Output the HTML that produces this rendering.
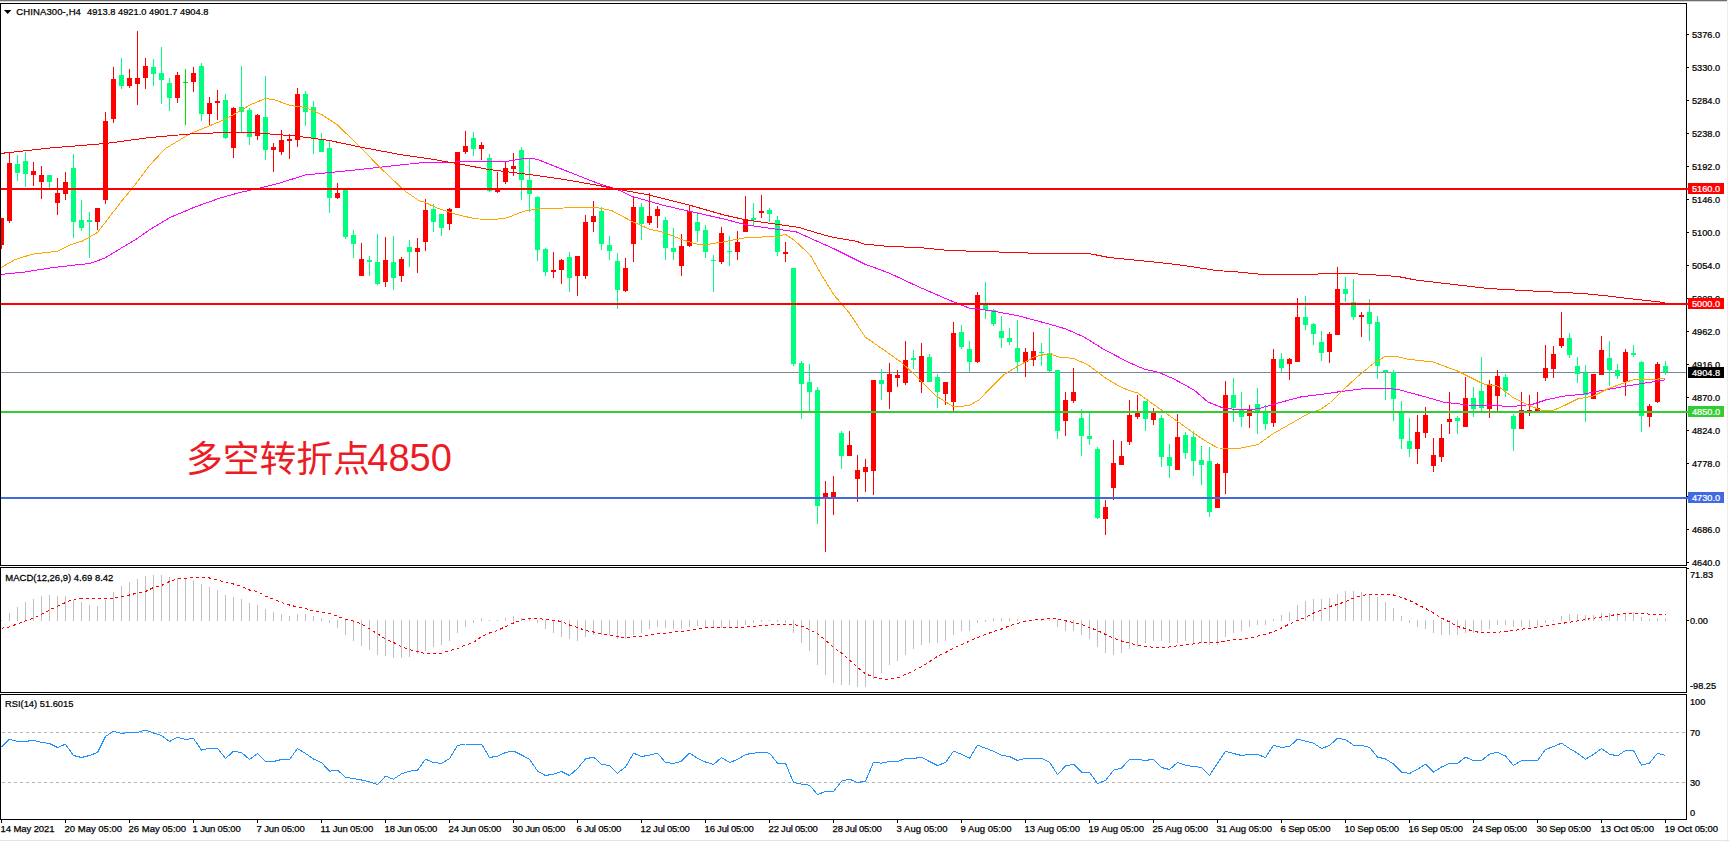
<!DOCTYPE html>
<html lang="zh"><head><meta charset="utf-8"><title>CHINA300-,H4</title>
<style>html,body{margin:0;padding:0;background:#fff;overflow:hidden}svg{display:block}text{font-family:"Liberation Sans","Noto Sans CJK SC",sans-serif;fill:#000}.sm{font-size:9.53px;stroke:#000;stroke-width:.25px}.cn{font-family:"Liberation Sans","Noto Sans CJK SC",sans-serif}</style></head><body>
<svg width="1729" height="842" viewBox="0 0 1729 842">
<rect width="1729" height="842" fill="#fff"/>
<rect x="0" y="0" width="1727" height="1" fill="#6e6e6e"/>
<rect x="0" y="1" width="1727" height="1" fill="#d6d6d6"/>
<rect x="1727" y="0" width="1" height="842" fill="#ececec"/>
<rect x="0" y="840" width="1729" height="1" fill="#e4e4e4"/>
<defs><clipPath id="c1"><rect x="1" y="4" width="1685" height="561"/></clipPath><clipPath id="c2"><rect x="1" y="568" width="1685" height="124"/></clipPath><clipPath id="c3"><rect x="1" y="695" width="1685" height="124"/></clipPath></defs>
<g clip-path="url(#c1)" shape-rendering="crispEdges">
<rect x="1" y="372" width="1685" height="1" fill="#778899"/>
<rect x="1" y="218" width="1" height="31" fill="#ff0000"/>
<rect x="-1" y="218" width="5" height="27" fill="#ff0000"/>
<rect x="9" y="152" width="1" height="71" fill="#ff0000"/>
<rect x="7" y="163" width="5" height="58" fill="#ff0000"/>
<rect x="17" y="155" width="1" height="26" fill="#00ff7f"/>
<rect x="15" y="164" width="5" height="9" fill="#00ff7f"/>
<rect x="25" y="152" width="1" height="35" fill="#00ff7f"/>
<rect x="23" y="161" width="5" height="13" fill="#00ff7f"/>
<rect x="33" y="162" width="1" height="24" fill="#ff0000"/>
<rect x="31" y="171" width="5" height="4" fill="#ff0000"/>
<rect x="41" y="166" width="1" height="33" fill="#ff0000"/>
<rect x="39" y="175" width="5" height="7" fill="#ff0000"/>
<rect x="49" y="175" width="1" height="13" fill="#00ff7f"/>
<rect x="47" y="175" width="5" height="7" fill="#00ff7f"/>
<rect x="57" y="178" width="1" height="37" fill="#ff0000"/>
<rect x="55" y="193" width="5" height="10" fill="#ff0000"/>
<rect x="65" y="172" width="1" height="28" fill="#ff0000"/>
<rect x="63" y="182" width="5" height="12" fill="#ff0000"/>
<rect x="73" y="154" width="1" height="84" fill="#00ff7f"/>
<rect x="71" y="168" width="5" height="54" fill="#00ff7f"/>
<rect x="81" y="200" width="1" height="31" fill="#00ff7f"/>
<rect x="79" y="220" width="5" height="8" fill="#00ff7f"/>
<rect x="89" y="212" width="1" height="46" fill="#00ff7f"/>
<rect x="87" y="220" width="5" height="2" fill="#00ff7f"/>
<rect x="97" y="208" width="1" height="22" fill="#ff0000"/>
<rect x="95" y="208" width="5" height="14" fill="#ff0000"/>
<rect x="105" y="112" width="1" height="92" fill="#ff0000"/>
<rect x="103" y="121" width="5" height="79" fill="#ff0000"/>
<rect x="113" y="67" width="1" height="56" fill="#ff0000"/>
<rect x="111" y="79" width="5" height="40" fill="#ff0000"/>
<rect x="121" y="58" width="1" height="31" fill="#00ff7f"/>
<rect x="119" y="75" width="5" height="11" fill="#00ff7f"/>
<rect x="129" y="69" width="1" height="19" fill="#ff0000"/>
<rect x="127" y="78" width="5" height="8" fill="#ff0000"/>
<rect x="137" y="31" width="1" height="74" fill="#ff0000"/>
<rect x="135" y="78" width="5" height="6" fill="#ff0000"/>
<rect x="145" y="58" width="1" height="31" fill="#ff0000"/>
<rect x="143" y="66" width="5" height="12" fill="#ff0000"/>
<rect x="153" y="59" width="1" height="27" fill="#00ff7f"/>
<rect x="151" y="67" width="5" height="7" fill="#00ff7f"/>
<rect x="161" y="47" width="1" height="57" fill="#00ff7f"/>
<rect x="159" y="73" width="5" height="7" fill="#00ff7f"/>
<rect x="169" y="78" width="1" height="33" fill="#00ff7f"/>
<rect x="167" y="83" width="5" height="15" fill="#00ff7f"/>
<rect x="177" y="72" width="1" height="31" fill="#ff0000"/>
<rect x="175" y="75" width="5" height="23" fill="#ff0000"/>
<rect x="185" y="69" width="1" height="56" fill="#00e000"/>
<rect x="183" y="82" width="5" height="1" fill="#00e000"/>
<rect x="193" y="67" width="1" height="25" fill="#ff0000"/>
<rect x="191" y="73" width="5" height="9" fill="#ff0000"/>
<rect x="201" y="63" width="1" height="58" fill="#00ff7f"/>
<rect x="199" y="66" width="5" height="48" fill="#00ff7f"/>
<rect x="209" y="97" width="1" height="28" fill="#ff0000"/>
<rect x="207" y="103" width="5" height="11" fill="#ff0000"/>
<rect x="217" y="90" width="1" height="30" fill="#ff0000"/>
<rect x="215" y="101" width="5" height="2" fill="#ff0000"/>
<rect x="225" y="94" width="1" height="45" fill="#00ff7f"/>
<rect x="223" y="100" width="5" height="38" fill="#00ff7f"/>
<rect x="233" y="107" width="1" height="51" fill="#ff0000"/>
<rect x="231" y="108" width="5" height="40" fill="#ff0000"/>
<rect x="241" y="66" width="1" height="67" fill="#00ff7f"/>
<rect x="239" y="107" width="5" height="5" fill="#00ff7f"/>
<rect x="249" y="108" width="1" height="37" fill="#00ff7f"/>
<rect x="247" y="110" width="5" height="27" fill="#00ff7f"/>
<rect x="257" y="114" width="1" height="26" fill="#ff0000"/>
<rect x="255" y="115" width="5" height="21" fill="#ff0000"/>
<rect x="265" y="76" width="1" height="84" fill="#00ff7f"/>
<rect x="263" y="117" width="5" height="33" fill="#00ff7f"/>
<rect x="273" y="143" width="1" height="29" fill="#ff0000"/>
<rect x="271" y="147" width="5" height="3" fill="#ff0000"/>
<rect x="281" y="130" width="1" height="25" fill="#ff0000"/>
<rect x="279" y="140" width="5" height="12" fill="#ff0000"/>
<rect x="289" y="134" width="1" height="25" fill="#ff0000"/>
<rect x="287" y="139" width="5" height="2" fill="#ff0000"/>
<rect x="297" y="88" width="1" height="59" fill="#ff0000"/>
<rect x="295" y="94" width="5" height="46" fill="#ff0000"/>
<rect x="305" y="91" width="1" height="35" fill="#00ff7f"/>
<rect x="303" y="94" width="5" height="18" fill="#00ff7f"/>
<rect x="313" y="101" width="1" height="53" fill="#00ff7f"/>
<rect x="311" y="107" width="5" height="32" fill="#00ff7f"/>
<rect x="321" y="133" width="1" height="19" fill="#00ff7f"/>
<rect x="319" y="140" width="5" height="12" fill="#00ff7f"/>
<rect x="329" y="141" width="1" height="72" fill="#00ff7f"/>
<rect x="327" y="148" width="5" height="50" fill="#00ff7f"/>
<rect x="337" y="183" width="1" height="16" fill="#ff0000"/>
<rect x="335" y="193" width="5" height="5" fill="#ff0000"/>
<rect x="345" y="190" width="1" height="49" fill="#00ff7f"/>
<rect x="343" y="190" width="5" height="47" fill="#00ff7f"/>
<rect x="353" y="230" width="1" height="28" fill="#00ff7f"/>
<rect x="351" y="235" width="5" height="9" fill="#00ff7f"/>
<rect x="361" y="243" width="1" height="33" fill="#ff0000"/>
<rect x="359" y="259" width="5" height="17" fill="#ff0000"/>
<rect x="369" y="256" width="1" height="20" fill="#00ff7f"/>
<rect x="367" y="260" width="5" height="2" fill="#00ff7f"/>
<rect x="377" y="234" width="1" height="51" fill="#00ff7f"/>
<rect x="375" y="262" width="5" height="22" fill="#00ff7f"/>
<rect x="385" y="237" width="1" height="50" fill="#ff0000"/>
<rect x="383" y="260" width="5" height="22" fill="#ff0000"/>
<rect x="393" y="236" width="1" height="54" fill="#00ff7f"/>
<rect x="391" y="262" width="5" height="16" fill="#00ff7f"/>
<rect x="401" y="257" width="1" height="25" fill="#ff0000"/>
<rect x="399" y="259" width="5" height="17" fill="#ff0000"/>
<rect x="409" y="240" width="1" height="27" fill="#00ff7f"/>
<rect x="407" y="247" width="5" height="5" fill="#00ff7f"/>
<rect x="417" y="238" width="1" height="35" fill="#ff0000"/>
<rect x="415" y="248" width="5" height="4" fill="#ff0000"/>
<rect x="425" y="199" width="1" height="52" fill="#ff0000"/>
<rect x="423" y="210" width="5" height="32" fill="#ff0000"/>
<rect x="433" y="204" width="1" height="28" fill="#00ff7f"/>
<rect x="431" y="209" width="5" height="13" fill="#00ff7f"/>
<rect x="441" y="214" width="1" height="22" fill="#00ff7f"/>
<rect x="439" y="214" width="5" height="14" fill="#00ff7f"/>
<rect x="449" y="208" width="1" height="22" fill="#ff0000"/>
<rect x="447" y="209" width="5" height="15" fill="#ff0000"/>
<rect x="457" y="152" width="1" height="56" fill="#ff0000"/>
<rect x="455" y="152" width="5" height="56" fill="#ff0000"/>
<rect x="465" y="131" width="1" height="23" fill="#ff0000"/>
<rect x="463" y="146" width="5" height="6" fill="#ff0000"/>
<rect x="473" y="132" width="1" height="24" fill="#00ff7f"/>
<rect x="471" y="138" width="5" height="11" fill="#00ff7f"/>
<rect x="481" y="142" width="1" height="18" fill="#ff0000"/>
<rect x="479" y="145" width="5" height="4" fill="#ff0000"/>
<rect x="489" y="154" width="1" height="38" fill="#00ff7f"/>
<rect x="487" y="158" width="5" height="33" fill="#00ff7f"/>
<rect x="497" y="172" width="1" height="21" fill="#ff0000"/>
<rect x="495" y="188" width="5" height="4" fill="#ff0000"/>
<rect x="505" y="162" width="1" height="22" fill="#ff0000"/>
<rect x="503" y="168" width="5" height="14" fill="#ff0000"/>
<rect x="513" y="153" width="1" height="23" fill="#ff0000"/>
<rect x="511" y="166" width="5" height="3" fill="#ff0000"/>
<rect x="521" y="147" width="1" height="53" fill="#00ff7f"/>
<rect x="519" y="150" width="5" height="30" fill="#00ff7f"/>
<rect x="529" y="159" width="1" height="53" fill="#00ff7f"/>
<rect x="527" y="180" width="5" height="14" fill="#00ff7f"/>
<rect x="537" y="196" width="1" height="65" fill="#00ff7f"/>
<rect x="535" y="197" width="5" height="53" fill="#00ff7f"/>
<rect x="545" y="248" width="1" height="28" fill="#00ff7f"/>
<rect x="543" y="249" width="5" height="23" fill="#00ff7f"/>
<rect x="553" y="252" width="1" height="26" fill="#ff0000"/>
<rect x="551" y="270" width="5" height="2" fill="#ff0000"/>
<rect x="561" y="259" width="1" height="25" fill="#ff0000"/>
<rect x="559" y="260" width="5" height="10" fill="#ff0000"/>
<rect x="569" y="252" width="1" height="40" fill="#00ff7f"/>
<rect x="567" y="257" width="5" height="21" fill="#00ff7f"/>
<rect x="577" y="256" width="1" height="40" fill="#ff0000"/>
<rect x="575" y="256" width="5" height="20" fill="#ff0000"/>
<rect x="585" y="215" width="1" height="64" fill="#ff0000"/>
<rect x="583" y="222" width="5" height="54" fill="#ff0000"/>
<rect x="593" y="201" width="1" height="31" fill="#ff0000"/>
<rect x="591" y="216" width="5" height="6" fill="#ff0000"/>
<rect x="601" y="207" width="1" height="43" fill="#00ff7f"/>
<rect x="599" y="211" width="5" height="33" fill="#00ff7f"/>
<rect x="609" y="236" width="1" height="24" fill="#00ff7f"/>
<rect x="607" y="245" width="5" height="6" fill="#00ff7f"/>
<rect x="617" y="253" width="1" height="56" fill="#00ff7f"/>
<rect x="615" y="261" width="5" height="29" fill="#00ff7f"/>
<rect x="625" y="258" width="1" height="34" fill="#ff0000"/>
<rect x="623" y="268" width="5" height="23" fill="#ff0000"/>
<rect x="633" y="196" width="1" height="66" fill="#ff0000"/>
<rect x="631" y="207" width="5" height="37" fill="#ff0000"/>
<rect x="641" y="203" width="1" height="37" fill="#00ff7f"/>
<rect x="639" y="207" width="5" height="17" fill="#00ff7f"/>
<rect x="649" y="193" width="1" height="32" fill="#ff0000"/>
<rect x="647" y="216" width="5" height="7" fill="#ff0000"/>
<rect x="657" y="206" width="1" height="22" fill="#ff0000"/>
<rect x="655" y="209" width="5" height="7" fill="#ff0000"/>
<rect x="665" y="217" width="1" height="43" fill="#00ff7f"/>
<rect x="663" y="220" width="5" height="28" fill="#00ff7f"/>
<rect x="673" y="228" width="1" height="32" fill="#00ff7f"/>
<rect x="671" y="248" width="5" height="4" fill="#00ff7f"/>
<rect x="681" y="234" width="1" height="42" fill="#ff0000"/>
<rect x="679" y="246" width="5" height="20" fill="#ff0000"/>
<rect x="689" y="206" width="1" height="41" fill="#ff0000"/>
<rect x="687" y="211" width="5" height="35" fill="#ff0000"/>
<rect x="697" y="212" width="1" height="30" fill="#00ff7f"/>
<rect x="695" y="222" width="5" height="9" fill="#00ff7f"/>
<rect x="705" y="225" width="1" height="33" fill="#00ff7f"/>
<rect x="703" y="230" width="5" height="22" fill="#00ff7f"/>
<rect x="713" y="255" width="1" height="37" fill="#00ff7f"/>
<rect x="711" y="260" width="5" height="1" fill="#00ff7f"/>
<rect x="721" y="227" width="1" height="37" fill="#ff0000"/>
<rect x="719" y="233" width="5" height="29" fill="#ff0000"/>
<rect x="729" y="236" width="1" height="30" fill="#00ff7f"/>
<rect x="727" y="251" width="5" height="1" fill="#00ff7f"/>
<rect x="737" y="231" width="1" height="29" fill="#ff0000"/>
<rect x="735" y="242" width="5" height="10" fill="#ff0000"/>
<rect x="745" y="196" width="1" height="36" fill="#ff0000"/>
<rect x="743" y="219" width="5" height="13" fill="#ff0000"/>
<rect x="753" y="203" width="1" height="23" fill="#00ff7f"/>
<rect x="751" y="218" width="5" height="2" fill="#00ff7f"/>
<rect x="761" y="195" width="1" height="23" fill="#ff0000"/>
<rect x="759" y="211" width="5" height="2" fill="#ff0000"/>
<rect x="769" y="208" width="1" height="14" fill="#00ff7f"/>
<rect x="767" y="210" width="5" height="4" fill="#00ff7f"/>
<rect x="777" y="216" width="1" height="40" fill="#00ff7f"/>
<rect x="775" y="220" width="5" height="32" fill="#00ff7f"/>
<rect x="785" y="242" width="1" height="20" fill="#ff0000"/>
<rect x="783" y="252" width="5" height="2" fill="#ff0000"/>
<rect x="793" y="268" width="1" height="98" fill="#00ff7f"/>
<rect x="791" y="268" width="5" height="96" fill="#00ff7f"/>
<rect x="801" y="361" width="1" height="58" fill="#00ff7f"/>
<rect x="799" y="363" width="5" height="21" fill="#00ff7f"/>
<rect x="809" y="364" width="1" height="47" fill="#00ff7f"/>
<rect x="807" y="382" width="5" height="10" fill="#00ff7f"/>
<rect x="817" y="387" width="1" height="137" fill="#00ff7f"/>
<rect x="815" y="390" width="5" height="116" fill="#00ff7f"/>
<rect x="825" y="481" width="1" height="71" fill="#ff0000"/>
<rect x="823" y="493" width="5" height="5" fill="#ff0000"/>
<rect x="833" y="476" width="1" height="39" fill="#ff0000"/>
<rect x="831" y="492" width="5" height="6" fill="#ff0000"/>
<rect x="841" y="431" width="1" height="38" fill="#00ff7f"/>
<rect x="839" y="433" width="5" height="23" fill="#00ff7f"/>
<rect x="849" y="431" width="1" height="25" fill="#ff0000"/>
<rect x="847" y="445" width="5" height="11" fill="#ff0000"/>
<rect x="857" y="455" width="1" height="47" fill="#ff0000"/>
<rect x="855" y="470" width="5" height="9" fill="#ff0000"/>
<rect x="865" y="459" width="1" height="33" fill="#ff0000"/>
<rect x="863" y="467" width="5" height="5" fill="#ff0000"/>
<rect x="873" y="380" width="1" height="115" fill="#ff0000"/>
<rect x="871" y="380" width="5" height="91" fill="#ff0000"/>
<rect x="881" y="369" width="1" height="31" fill="#00ff7f"/>
<rect x="879" y="380" width="5" height="4" fill="#00ff7f"/>
<rect x="889" y="363" width="1" height="46" fill="#ff0000"/>
<rect x="887" y="374" width="5" height="18" fill="#ff0000"/>
<rect x="897" y="370" width="1" height="17" fill="#ff0000"/>
<rect x="895" y="375" width="5" height="3" fill="#ff0000"/>
<rect x="905" y="341" width="1" height="44" fill="#ff0000"/>
<rect x="903" y="360" width="5" height="23" fill="#ff0000"/>
<rect x="913" y="350" width="1" height="19" fill="#00ff7f"/>
<rect x="911" y="358" width="5" height="2" fill="#00ff7f"/>
<rect x="921" y="343" width="1" height="50" fill="#ff0000"/>
<rect x="919" y="356" width="5" height="26" fill="#ff0000"/>
<rect x="929" y="354" width="1" height="28" fill="#00ff7f"/>
<rect x="927" y="357" width="5" height="25" fill="#00ff7f"/>
<rect x="937" y="374" width="1" height="34" fill="#00ff7f"/>
<rect x="935" y="377" width="5" height="15" fill="#00ff7f"/>
<rect x="945" y="382" width="1" height="23" fill="#ff0000"/>
<rect x="943" y="382" width="5" height="12" fill="#ff0000"/>
<rect x="953" y="322" width="1" height="89" fill="#ff0000"/>
<rect x="951" y="333" width="5" height="69" fill="#ff0000"/>
<rect x="961" y="325" width="1" height="24" fill="#00ff7f"/>
<rect x="959" y="332" width="5" height="15" fill="#00ff7f"/>
<rect x="969" y="341" width="1" height="31" fill="#00ff7f"/>
<rect x="967" y="349" width="5" height="13" fill="#00ff7f"/>
<rect x="977" y="292" width="1" height="71" fill="#ff0000"/>
<rect x="975" y="295" width="5" height="67" fill="#ff0000"/>
<rect x="985" y="282" width="1" height="37" fill="#00ff7f"/>
<rect x="983" y="305" width="5" height="5" fill="#00ff7f"/>
<rect x="993" y="309" width="1" height="17" fill="#00ff7f"/>
<rect x="991" y="310" width="5" height="14" fill="#00ff7f"/>
<rect x="1001" y="316" width="1" height="32" fill="#00ff7f"/>
<rect x="999" y="331" width="5" height="7" fill="#00ff7f"/>
<rect x="1009" y="328" width="1" height="17" fill="#00ff7f"/>
<rect x="1007" y="338" width="5" height="4" fill="#00ff7f"/>
<rect x="1017" y="320" width="1" height="52" fill="#00ff7f"/>
<rect x="1015" y="348" width="5" height="14" fill="#00ff7f"/>
<rect x="1025" y="348" width="1" height="29" fill="#ff0000"/>
<rect x="1023" y="352" width="5" height="10" fill="#ff0000"/>
<rect x="1033" y="332" width="1" height="34" fill="#ff0000"/>
<rect x="1031" y="351" width="5" height="9" fill="#ff0000"/>
<rect x="1041" y="343" width="1" height="23" fill="#00ff7f"/>
<rect x="1039" y="352" width="5" height="1" fill="#00ff7f"/>
<rect x="1049" y="328" width="1" height="44" fill="#00ff7f"/>
<rect x="1047" y="353" width="5" height="18" fill="#00ff7f"/>
<rect x="1057" y="370" width="1" height="69" fill="#00ff7f"/>
<rect x="1055" y="370" width="5" height="61" fill="#00ff7f"/>
<rect x="1065" y="392" width="1" height="44" fill="#ff0000"/>
<rect x="1063" y="400" width="5" height="21" fill="#ff0000"/>
<rect x="1073" y="368" width="1" height="35" fill="#ff0000"/>
<rect x="1071" y="392" width="5" height="9" fill="#ff0000"/>
<rect x="1081" y="409" width="1" height="47" fill="#00ff7f"/>
<rect x="1079" y="418" width="5" height="18" fill="#00ff7f"/>
<rect x="1089" y="412" width="1" height="33" fill="#00ff7f"/>
<rect x="1087" y="436" width="5" height="3" fill="#00ff7f"/>
<rect x="1097" y="447" width="1" height="72" fill="#00ff7f"/>
<rect x="1095" y="449" width="5" height="69" fill="#00ff7f"/>
<rect x="1105" y="500" width="1" height="35" fill="#ff0000"/>
<rect x="1103" y="507" width="5" height="12" fill="#ff0000"/>
<rect x="1113" y="440" width="1" height="60" fill="#ff0000"/>
<rect x="1111" y="463" width="5" height="25" fill="#ff0000"/>
<rect x="1121" y="441" width="1" height="24" fill="#ff0000"/>
<rect x="1119" y="456" width="5" height="9" fill="#ff0000"/>
<rect x="1129" y="400" width="1" height="45" fill="#ff0000"/>
<rect x="1127" y="415" width="5" height="27" fill="#ff0000"/>
<rect x="1137" y="395" width="1" height="24" fill="#ff0000"/>
<rect x="1135" y="413" width="5" height="4" fill="#ff0000"/>
<rect x="1145" y="401" width="1" height="30" fill="#00ff7f"/>
<rect x="1143" y="401" width="5" height="18" fill="#00ff7f"/>
<rect x="1153" y="408" width="1" height="17" fill="#ff0000"/>
<rect x="1151" y="413" width="5" height="7" fill="#ff0000"/>
<rect x="1161" y="415" width="1" height="52" fill="#00ff7f"/>
<rect x="1159" y="418" width="5" height="39" fill="#00ff7f"/>
<rect x="1169" y="444" width="1" height="34" fill="#00ff7f"/>
<rect x="1167" y="457" width="5" height="9" fill="#00ff7f"/>
<rect x="1177" y="414" width="1" height="56" fill="#ff0000"/>
<rect x="1175" y="437" width="5" height="33" fill="#ff0000"/>
<rect x="1185" y="432" width="1" height="27" fill="#00ff7f"/>
<rect x="1183" y="435" width="5" height="18" fill="#00ff7f"/>
<rect x="1193" y="431" width="1" height="45" fill="#00ff7f"/>
<rect x="1191" y="437" width="5" height="24" fill="#00ff7f"/>
<rect x="1201" y="446" width="1" height="39" fill="#00ff7f"/>
<rect x="1199" y="460" width="5" height="5" fill="#00ff7f"/>
<rect x="1209" y="447" width="1" height="70" fill="#00ff7f"/>
<rect x="1207" y="461" width="5" height="51" fill="#00ff7f"/>
<rect x="1217" y="463" width="1" height="45" fill="#ff0000"/>
<rect x="1215" y="464" width="5" height="44" fill="#ff0000"/>
<rect x="1225" y="381" width="1" height="113" fill="#ff0000"/>
<rect x="1223" y="395" width="5" height="78" fill="#ff0000"/>
<rect x="1233" y="378" width="1" height="44" fill="#00ff7f"/>
<rect x="1231" y="395" width="5" height="13" fill="#00ff7f"/>
<rect x="1241" y="392" width="1" height="35" fill="#00ff7f"/>
<rect x="1239" y="410" width="5" height="7" fill="#00ff7f"/>
<rect x="1249" y="405" width="1" height="23" fill="#ff0000"/>
<rect x="1247" y="410" width="5" height="6" fill="#ff0000"/>
<rect x="1257" y="388" width="1" height="46" fill="#00ff7f"/>
<rect x="1255" y="404" width="5" height="8" fill="#00ff7f"/>
<rect x="1265" y="405" width="1" height="25" fill="#00ff7f"/>
<rect x="1263" y="412" width="5" height="12" fill="#00ff7f"/>
<rect x="1273" y="349" width="1" height="78" fill="#ff0000"/>
<rect x="1271" y="359" width="5" height="64" fill="#ff0000"/>
<rect x="1281" y="353" width="1" height="19" fill="#00ff7f"/>
<rect x="1279" y="359" width="5" height="9" fill="#00ff7f"/>
<rect x="1289" y="358" width="1" height="22" fill="#ff0000"/>
<rect x="1287" y="359" width="5" height="5" fill="#ff0000"/>
<rect x="1297" y="298" width="1" height="64" fill="#ff0000"/>
<rect x="1295" y="317" width="5" height="45" fill="#ff0000"/>
<rect x="1305" y="296" width="1" height="34" fill="#00ff7f"/>
<rect x="1303" y="317" width="5" height="8" fill="#00ff7f"/>
<rect x="1313" y="323" width="1" height="22" fill="#00ff7f"/>
<rect x="1311" y="324" width="5" height="10" fill="#00ff7f"/>
<rect x="1321" y="331" width="1" height="30" fill="#00ff7f"/>
<rect x="1319" y="342" width="5" height="11" fill="#00ff7f"/>
<rect x="1329" y="332" width="1" height="31" fill="#ff0000"/>
<rect x="1327" y="334" width="5" height="18" fill="#ff0000"/>
<rect x="1337" y="267" width="1" height="68" fill="#ff0000"/>
<rect x="1335" y="289" width="5" height="46" fill="#ff0000"/>
<rect x="1345" y="277" width="1" height="25" fill="#00ff7f"/>
<rect x="1343" y="289" width="5" height="5" fill="#00ff7f"/>
<rect x="1353" y="279" width="1" height="41" fill="#00ff7f"/>
<rect x="1351" y="302" width="5" height="15" fill="#00ff7f"/>
<rect x="1361" y="312" width="1" height="25" fill="#ff0000"/>
<rect x="1359" y="315" width="5" height="2" fill="#ff0000"/>
<rect x="1369" y="299" width="1" height="42" fill="#00ff7f"/>
<rect x="1367" y="312" width="5" height="12" fill="#00ff7f"/>
<rect x="1377" y="316" width="1" height="63" fill="#00ff7f"/>
<rect x="1375" y="322" width="5" height="44" fill="#00ff7f"/>
<rect x="1385" y="370" width="1" height="30" fill="#00ff7f"/>
<rect x="1383" y="370" width="5" height="2" fill="#00ff7f"/>
<rect x="1393" y="370" width="1" height="51" fill="#00ff7f"/>
<rect x="1391" y="372" width="5" height="27" fill="#00ff7f"/>
<rect x="1401" y="401" width="1" height="48" fill="#00ff7f"/>
<rect x="1399" y="412" width="5" height="27" fill="#00ff7f"/>
<rect x="1409" y="418" width="1" height="39" fill="#00ff7f"/>
<rect x="1407" y="441" width="5" height="8" fill="#00ff7f"/>
<rect x="1417" y="415" width="1" height="49" fill="#ff0000"/>
<rect x="1415" y="432" width="5" height="17" fill="#ff0000"/>
<rect x="1425" y="407" width="1" height="31" fill="#ff0000"/>
<rect x="1423" y="415" width="5" height="18" fill="#ff0000"/>
<rect x="1433" y="438" width="1" height="34" fill="#ff0000"/>
<rect x="1431" y="455" width="5" height="11" fill="#ff0000"/>
<rect x="1441" y="424" width="1" height="38" fill="#ff0000"/>
<rect x="1439" y="438" width="5" height="19" fill="#ff0000"/>
<rect x="1449" y="392" width="1" height="42" fill="#ff0000"/>
<rect x="1447" y="419" width="5" height="3" fill="#ff0000"/>
<rect x="1457" y="416" width="1" height="18" fill="#00ff7f"/>
<rect x="1455" y="418" width="5" height="3" fill="#00ff7f"/>
<rect x="1465" y="377" width="1" height="50" fill="#ff0000"/>
<rect x="1463" y="398" width="5" height="29" fill="#ff0000"/>
<rect x="1473" y="387" width="1" height="30" fill="#00ff7f"/>
<rect x="1471" y="398" width="5" height="11" fill="#00ff7f"/>
<rect x="1481" y="357" width="1" height="54" fill="#00ff7f"/>
<rect x="1479" y="391" width="5" height="17" fill="#00ff7f"/>
<rect x="1489" y="380" width="1" height="38" fill="#ff0000"/>
<rect x="1487" y="384" width="5" height="25" fill="#ff0000"/>
<rect x="1497" y="370" width="1" height="41" fill="#ff0000"/>
<rect x="1495" y="376" width="5" height="20" fill="#ff0000"/>
<rect x="1505" y="374" width="1" height="23" fill="#00ff7f"/>
<rect x="1503" y="377" width="5" height="14" fill="#00ff7f"/>
<rect x="1513" y="414" width="1" height="37" fill="#00ff7f"/>
<rect x="1511" y="416" width="5" height="13" fill="#00ff7f"/>
<rect x="1521" y="392" width="1" height="37" fill="#ff0000"/>
<rect x="1519" y="410" width="5" height="19" fill="#ff0000"/>
<rect x="1529" y="395" width="1" height="21" fill="#ff0000"/>
<rect x="1527" y="410" width="5" height="1" fill="#ff0000"/>
<rect x="1537" y="392" width="1" height="19" fill="#ff0000"/>
<rect x="1535" y="408" width="5" height="3" fill="#ff0000"/>
<rect x="1545" y="345" width="1" height="36" fill="#ff0000"/>
<rect x="1543" y="368" width="5" height="10" fill="#ff0000"/>
<rect x="1553" y="346" width="1" height="32" fill="#ff0000"/>
<rect x="1551" y="354" width="5" height="15" fill="#ff0000"/>
<rect x="1561" y="312" width="1" height="36" fill="#ff0000"/>
<rect x="1559" y="338" width="5" height="8" fill="#ff0000"/>
<rect x="1569" y="333" width="1" height="25" fill="#00ff7f"/>
<rect x="1567" y="338" width="5" height="17" fill="#00ff7f"/>
<rect x="1577" y="357" width="1" height="26" fill="#00ff7f"/>
<rect x="1575" y="366" width="5" height="8" fill="#00ff7f"/>
<rect x="1585" y="365" width="1" height="57" fill="#00ff7f"/>
<rect x="1583" y="373" width="5" height="22" fill="#00ff7f"/>
<rect x="1593" y="374" width="1" height="25" fill="#ff0000"/>
<rect x="1591" y="374" width="5" height="25" fill="#ff0000"/>
<rect x="1601" y="336" width="1" height="39" fill="#ff0000"/>
<rect x="1599" y="350" width="5" height="25" fill="#ff0000"/>
<rect x="1609" y="341" width="1" height="45" fill="#00ff7f"/>
<rect x="1607" y="358" width="5" height="12" fill="#00ff7f"/>
<rect x="1617" y="364" width="1" height="15" fill="#00ff7f"/>
<rect x="1615" y="370" width="5" height="6" fill="#00ff7f"/>
<rect x="1625" y="349" width="1" height="47" fill="#ff0000"/>
<rect x="1623" y="352" width="5" height="30" fill="#ff0000"/>
<rect x="1633" y="345" width="1" height="12" fill="#00ff7f"/>
<rect x="1631" y="353" width="5" height="2" fill="#00ff7f"/>
<rect x="1641" y="361" width="1" height="71" fill="#00ff7f"/>
<rect x="1639" y="362" width="5" height="54" fill="#00ff7f"/>
<rect x="1649" y="404" width="1" height="23" fill="#ff0000"/>
<rect x="1647" y="406" width="5" height="11" fill="#ff0000"/>
<rect x="1657" y="362" width="1" height="41" fill="#ff0000"/>
<rect x="1655" y="364" width="5" height="38" fill="#ff0000"/>
<rect x="1665" y="361" width="1" height="14" fill="#00ff7f"/>
<rect x="1663" y="366" width="5" height="6" fill="#00ff7f"/>
<polyline points="0.0,274.5 25.0,272.0 50.0,268.0 75.0,265.0 90.0,263.5 105.0,258.0 120.0,248.8 135.0,240.0 150.0,229.5 170.0,217.5 195.0,207.0 220.0,198.0 240.0,192.5 260.0,188.0 280.0,183.0 305.0,175.0 330.0,172.5 360.0,169.5 400.0,165.0 424.0,162.5 456.5,162.0 506.5,161.5 521.5,159.0 531.5,158.0 539.0,160.0 564.0,170.0 599.0,183.8 616.5,189.0 631.5,196.2 664.0,205.5 689.0,211.2 724.0,219.0 746.5,225.0 779.0,229.5 796.5,232.0 834.0,248.8 864.0,263.8 889.0,273.0 919.0,287.0 949.0,300.0 969.0,308.0 994.0,311.2 1019.0,316.0 1049.0,324.0 1066.5,329.2 1084.0,337.0 1104.0,349.5 1129.0,362.5 1144.0,369.0 1159.0,372.5 1174.0,379.0 1194.0,390.0 1208.0,402.0 1223.0,408.0 1240.5,410.0 1258.0,408.8 1278.0,403.0 1300.5,397.0 1320.5,394.5 1343.0,391.2 1368.0,388.2 1385.5,388.2 1398.0,389.5 1423.0,396.2 1443.0,402.0 1468.0,405.0 1490.5,405.5 1513.0,406.5 1533.0,404.2 1545.5,400.0 1563.0,396.2 1583.0,394.2 1598.0,391.2 1624.7,386.4 1641.8,383.6 1665.4,379.8" fill="none" stroke="#ff00ff" stroke-width="1" stroke-linejoin="bevel" />
<polyline points="0.0,268.2 15.0,259.5 32.5,254.2 57.5,251.2 70.0,245.0 82.5,241.0 97.5,232.5 110.0,216.2 122.5,200.0 132.5,188.0 150.0,165.0 165.0,148.8 190.0,133.8 225.0,119.5 250.0,105.0 265.5,98.5 275.0,100.0 290.0,105.5 305.5,107.5 322.5,115.0 337.5,125.0 360.0,147.0 380.0,167.5 405.0,191.2 420.0,201.2 424.0,202.0 439.0,208.8 456.5,214.5 474.0,218.5 490.2,220.0 506.5,218.0 524.0,211.2 539.0,208.5 564.0,208.0 594.0,207.0 611.5,210.5 631.5,221.2 649.0,229.0 664.0,232.5 681.5,239.5 696.5,244.0 706.5,244.5 724.0,241.8 746.5,237.5 779.0,236.5 785.2,234.2 794.0,240.0 810.2,255.0 821.5,275.0 834.0,295.0 849.0,312.5 865.2,337.0 884.0,350.0 901.5,362.5 919.0,378.8 936.5,396.2 954.0,407.0 969.0,405.5 979.0,400.0 991.5,387.0 1004.0,374.5 1019.0,365.5 1034.0,357.0 1049.0,353.5 1059.0,357.0 1074.0,358.5 1089.0,365.5 1104.0,377.0 1119.0,386.2 1129.0,390.5 1137.8,393.0 1149.0,401.2 1161.5,410.0 1179.0,422.5 1196.5,435.0 1208.0,442.5 1218.0,448.0 1240.5,448.2 1258.0,444.5 1273.0,433.8 1290.5,423.8 1308.0,413.8 1320.5,409.5 1330.5,402.5 1343.0,390.0 1358.0,376.2 1373.0,363.8 1385.5,356.2 1395.5,356.2 1408.0,359.2 1433.0,362.0 1458.0,371.2 1483.0,383.8 1498.0,386.2 1513.0,397.5 1528.0,405.0 1540.5,410.0 1553.0,410.5 1563.0,406.2 1578.0,398.8 1593.0,396.2 1608.0,388.8 1624.7,382.6 1633.3,379.8 1649.4,379.8 1665.4,378.4" fill="none" stroke="#ffa500" stroke-width="1" stroke-linejoin="bevel" />
<polyline points="0.0,153.5 50.0,148.0 105.5,143.5 150.0,137.5 190.0,134.0 225.0,132.5 257.5,133.0 297.5,136.2 329.5,140.5 360.0,147.0 400.0,154.5 432.2,159.2 456.5,163.5 489.0,169.5 529.0,174.5 564.0,179.5 599.0,185.5 616.5,189.0 649.0,195.0 689.0,205.0 724.0,215.0 746.5,220.0 779.0,224.5 799.0,227.5 809.0,230.5 824.0,235.0 834.0,237.5 856.2,241.2 864.0,244.0 889.0,246.5 919.0,247.5 949.0,250.5 999.0,252.0 1034.0,253.2 1091.5,254.0 1109.0,257.5 1134.0,260.0 1159.0,262.5 1184.0,265.5 1216.2,270.5 1238.0,272.0 1263.0,274.5 1308.0,274.5 1338.0,273.0 1368.0,274.5 1398.0,276.5 1415.5,280.0 1458.0,285.0 1488.0,288.5 1533.0,291.0 1583.0,293.5 1608.0,296.0 1626.6,298.3 1664.8,302.5" fill="none" stroke="#ff0000" stroke-width="1" stroke-linejoin="bevel" />
<rect x="1" y="188" width="1685" height="2" fill="#ff0000"/>
<rect x="1" y="303" width="1685" height="2" fill="#ff0000"/>
<rect x="1" y="411" width="1685" height="2" fill="#32cd32"/>
<rect x="1" y="497" width="1685" height="2" fill="#4169e1"/>
</g>
<text class="cn" x="185.9" y="471.5" style="font-size:36.8px;font-weight:400;fill:#ec1c24">多空转折点</text>
<text x="367.3" y="470.6" style="font-size:38px;fill:#ec1c24">4850</text>
<g clip-path="url(#c2)" shape-rendering="crispEdges">
<rect x="1" y="620" width="1" height="1" fill="#c0c0c0"/>
<rect x="9" y="613" width="1" height="8" fill="#c0c0c0"/>
<rect x="17" y="607" width="1" height="14" fill="#c0c0c0"/>
<rect x="25" y="602" width="1" height="19" fill="#c0c0c0"/>
<rect x="33" y="599" width="1" height="22" fill="#c0c0c0"/>
<rect x="41" y="596" width="1" height="25" fill="#c0c0c0"/>
<rect x="49" y="595" width="1" height="26" fill="#c0c0c0"/>
<rect x="57" y="596" width="1" height="25" fill="#c0c0c0"/>
<rect x="65" y="596" width="1" height="25" fill="#c0c0c0"/>
<rect x="73" y="600" width="1" height="21" fill="#c0c0c0"/>
<rect x="81" y="602" width="1" height="19" fill="#c0c0c0"/>
<rect x="89" y="605" width="1" height="16" fill="#c0c0c0"/>
<rect x="97" y="606" width="1" height="15" fill="#c0c0c0"/>
<rect x="105" y="600" width="1" height="21" fill="#c0c0c0"/>
<rect x="113" y="592" width="1" height="29" fill="#c0c0c0"/>
<rect x="121" y="586" width="1" height="35" fill="#c0c0c0"/>
<rect x="129" y="582" width="1" height="39" fill="#c0c0c0"/>
<rect x="137" y="579" width="1" height="42" fill="#c0c0c0"/>
<rect x="145" y="576" width="1" height="45" fill="#c0c0c0"/>
<rect x="153" y="575" width="1" height="46" fill="#c0c0c0"/>
<rect x="161" y="575" width="1" height="46" fill="#c0c0c0"/>
<rect x="169" y="577" width="1" height="44" fill="#c0c0c0"/>
<rect x="177" y="578" width="1" height="43" fill="#c0c0c0"/>
<rect x="185" y="579" width="1" height="42" fill="#c0c0c0"/>
<rect x="193" y="580" width="1" height="41" fill="#c0c0c0"/>
<rect x="201" y="584" width="1" height="37" fill="#c0c0c0"/>
<rect x="209" y="587" width="1" height="34" fill="#c0c0c0"/>
<rect x="217" y="590" width="1" height="31" fill="#c0c0c0"/>
<rect x="225" y="595" width="1" height="26" fill="#c0c0c0"/>
<rect x="233" y="597" width="1" height="24" fill="#c0c0c0"/>
<rect x="241" y="599" width="1" height="22" fill="#c0c0c0"/>
<rect x="249" y="603" width="1" height="18" fill="#c0c0c0"/>
<rect x="257" y="605" width="1" height="16" fill="#c0c0c0"/>
<rect x="265" y="609" width="1" height="12" fill="#c0c0c0"/>
<rect x="273" y="612" width="1" height="9" fill="#c0c0c0"/>
<rect x="281" y="614" width="1" height="7" fill="#c0c0c0"/>
<rect x="289" y="616" width="1" height="5" fill="#c0c0c0"/>
<rect x="297" y="614" width="1" height="7" fill="#c0c0c0"/>
<rect x="305" y="614" width="1" height="7" fill="#c0c0c0"/>
<rect x="313" y="616" width="1" height="5" fill="#c0c0c0"/>
<rect x="321" y="618" width="1" height="3" fill="#c0c0c0"/>
<rect x="329" y="620" width="1" height="3" fill="#c0c0c0"/>
<rect x="337" y="620" width="1" height="8" fill="#c0c0c0"/>
<rect x="345" y="620" width="1" height="15" fill="#c0c0c0"/>
<rect x="353" y="620" width="1" height="21" fill="#c0c0c0"/>
<rect x="361" y="620" width="1" height="26" fill="#c0c0c0"/>
<rect x="369" y="620" width="1" height="30" fill="#c0c0c0"/>
<rect x="377" y="620" width="1" height="35" fill="#c0c0c0"/>
<rect x="385" y="620" width="1" height="36" fill="#c0c0c0"/>
<rect x="393" y="620" width="1" height="38" fill="#c0c0c0"/>
<rect x="401" y="620" width="1" height="38" fill="#c0c0c0"/>
<rect x="409" y="620" width="1" height="37" fill="#c0c0c0"/>
<rect x="417" y="620" width="1" height="34" fill="#c0c0c0"/>
<rect x="425" y="620" width="1" height="31" fill="#c0c0c0"/>
<rect x="433" y="620" width="1" height="27" fill="#c0c0c0"/>
<rect x="441" y="620" width="1" height="25" fill="#c0c0c0"/>
<rect x="449" y="620" width="1" height="21" fill="#c0c0c0"/>
<rect x="457" y="620" width="1" height="13" fill="#c0c0c0"/>
<rect x="465" y="620" width="1" height="7" fill="#c0c0c0"/>
<rect x="473" y="620" width="1" height="3" fill="#c0c0c0"/>
<rect x="481" y="618" width="1" height="3" fill="#c0c0c0"/>
<rect x="489" y="620" width="1" height="1" fill="#c0c0c0"/>
<rect x="497" y="620" width="1" height="1" fill="#c0c0c0"/>
<rect x="505" y="618" width="1" height="3" fill="#c0c0c0"/>
<rect x="513" y="616" width="1" height="5" fill="#c0c0c0"/>
<rect x="521" y="618" width="1" height="3" fill="#c0c0c0"/>
<rect x="529" y="618" width="1" height="3" fill="#c0c0c0"/>
<rect x="537" y="620" width="1" height="3" fill="#c0c0c0"/>
<rect x="545" y="620" width="1" height="9" fill="#c0c0c0"/>
<rect x="553" y="620" width="1" height="13" fill="#c0c0c0"/>
<rect x="561" y="620" width="1" height="17" fill="#c0c0c0"/>
<rect x="569" y="620" width="1" height="19" fill="#c0c0c0"/>
<rect x="577" y="620" width="1" height="21" fill="#c0c0c0"/>
<rect x="585" y="620" width="1" height="17" fill="#c0c0c0"/>
<rect x="593" y="620" width="1" height="15" fill="#c0c0c0"/>
<rect x="601" y="620" width="1" height="15" fill="#c0c0c0"/>
<rect x="609" y="620" width="1" height="15" fill="#c0c0c0"/>
<rect x="617" y="620" width="1" height="19" fill="#c0c0c0"/>
<rect x="625" y="620" width="1" height="19" fill="#c0c0c0"/>
<rect x="633" y="620" width="1" height="15" fill="#c0c0c0"/>
<rect x="641" y="620" width="1" height="13" fill="#c0c0c0"/>
<rect x="649" y="620" width="1" height="9" fill="#c0c0c0"/>
<rect x="657" y="620" width="1" height="7" fill="#c0c0c0"/>
<rect x="665" y="620" width="1" height="8" fill="#c0c0c0"/>
<rect x="673" y="620" width="1" height="9" fill="#c0c0c0"/>
<rect x="681" y="620" width="1" height="9" fill="#c0c0c0"/>
<rect x="689" y="620" width="1" height="7" fill="#c0c0c0"/>
<rect x="697" y="620" width="1" height="6" fill="#c0c0c0"/>
<rect x="705" y="620" width="1" height="7" fill="#c0c0c0"/>
<rect x="713" y="620" width="1" height="8" fill="#c0c0c0"/>
<rect x="721" y="620" width="1" height="8" fill="#c0c0c0"/>
<rect x="729" y="620" width="1" height="8" fill="#c0c0c0"/>
<rect x="737" y="620" width="1" height="7" fill="#c0c0c0"/>
<rect x="745" y="620" width="1" height="5" fill="#c0c0c0"/>
<rect x="753" y="620" width="1" height="3" fill="#c0c0c0"/>
<rect x="761" y="620" width="1" height="2" fill="#c0c0c0"/>
<rect x="769" y="620" width="1" height="1" fill="#c0c0c0"/>
<rect x="777" y="620" width="1" height="2" fill="#c0c0c0"/>
<rect x="785" y="620" width="1" height="3" fill="#c0c0c0"/>
<rect x="793" y="620" width="1" height="13" fill="#c0c0c0"/>
<rect x="801" y="620" width="1" height="23" fill="#c0c0c0"/>
<rect x="809" y="620" width="1" height="31" fill="#c0c0c0"/>
<rect x="817" y="620" width="1" height="45" fill="#c0c0c0"/>
<rect x="825" y="620" width="1" height="55" fill="#c0c0c0"/>
<rect x="833" y="620" width="1" height="63" fill="#c0c0c0"/>
<rect x="841" y="620" width="1" height="65" fill="#c0c0c0"/>
<rect x="849" y="620" width="1" height="65" fill="#c0c0c0"/>
<rect x="857" y="620" width="1" height="67" fill="#c0c0c0"/>
<rect x="865" y="620" width="1" height="67" fill="#c0c0c0"/>
<rect x="873" y="620" width="1" height="59" fill="#c0c0c0"/>
<rect x="881" y="620" width="1" height="53" fill="#c0c0c0"/>
<rect x="889" y="620" width="1" height="45" fill="#c0c0c0"/>
<rect x="897" y="620" width="1" height="41" fill="#c0c0c0"/>
<rect x="905" y="620" width="1" height="35" fill="#c0c0c0"/>
<rect x="913" y="620" width="1" height="29" fill="#c0c0c0"/>
<rect x="921" y="620" width="1" height="25" fill="#c0c0c0"/>
<rect x="929" y="620" width="1" height="23" fill="#c0c0c0"/>
<rect x="937" y="620" width="1" height="23" fill="#c0c0c0"/>
<rect x="945" y="620" width="1" height="21" fill="#c0c0c0"/>
<rect x="953" y="620" width="1" height="15" fill="#c0c0c0"/>
<rect x="961" y="620" width="1" height="11" fill="#c0c0c0"/>
<rect x="969" y="620" width="1" height="11" fill="#c0c0c0"/>
<rect x="977" y="620" width="1" height="3" fill="#c0c0c0"/>
<rect x="985" y="620" width="1" height="2" fill="#c0c0c0"/>
<rect x="993" y="618" width="1" height="3" fill="#c0c0c0"/>
<rect x="1001" y="618" width="1" height="3" fill="#c0c0c0"/>
<rect x="1009" y="618" width="1" height="3" fill="#c0c0c0"/>
<rect x="1017" y="619" width="1" height="2" fill="#c0c0c0"/>
<rect x="1025" y="620" width="1" height="1" fill="#c0c0c0"/>
<rect x="1033" y="620" width="1" height="1" fill="#c0c0c0"/>
<rect x="1041" y="620" width="1" height="1" fill="#c0c0c0"/>
<rect x="1049" y="620" width="1" height="1" fill="#c0c0c0"/>
<rect x="1057" y="620" width="1" height="7" fill="#c0c0c0"/>
<rect x="1065" y="620" width="1" height="11" fill="#c0c0c0"/>
<rect x="1073" y="620" width="1" height="11" fill="#c0c0c0"/>
<rect x="1081" y="620" width="1" height="15" fill="#c0c0c0"/>
<rect x="1089" y="620" width="1" height="19" fill="#c0c0c0"/>
<rect x="1097" y="620" width="1" height="27" fill="#c0c0c0"/>
<rect x="1105" y="620" width="1" height="33" fill="#c0c0c0"/>
<rect x="1113" y="620" width="1" height="35" fill="#c0c0c0"/>
<rect x="1121" y="620" width="1" height="33" fill="#c0c0c0"/>
<rect x="1129" y="620" width="1" height="29" fill="#c0c0c0"/>
<rect x="1137" y="620" width="1" height="27" fill="#c0c0c0"/>
<rect x="1145" y="620" width="1" height="23" fill="#c0c0c0"/>
<rect x="1153" y="620" width="1" height="21" fill="#c0c0c0"/>
<rect x="1161" y="620" width="1" height="21" fill="#c0c0c0"/>
<rect x="1169" y="620" width="1" height="23" fill="#c0c0c0"/>
<rect x="1177" y="620" width="1" height="23" fill="#c0c0c0"/>
<rect x="1185" y="620" width="1" height="21" fill="#c0c0c0"/>
<rect x="1193" y="620" width="1" height="23" fill="#c0c0c0"/>
<rect x="1201" y="620" width="1" height="23" fill="#c0c0c0"/>
<rect x="1209" y="620" width="1" height="25" fill="#c0c0c0"/>
<rect x="1217" y="620" width="1" height="25" fill="#c0c0c0"/>
<rect x="1225" y="620" width="1" height="17" fill="#c0c0c0"/>
<rect x="1233" y="620" width="1" height="13" fill="#c0c0c0"/>
<rect x="1241" y="620" width="1" height="11" fill="#c0c0c0"/>
<rect x="1249" y="620" width="1" height="7" fill="#c0c0c0"/>
<rect x="1257" y="620" width="1" height="5" fill="#c0c0c0"/>
<rect x="1265" y="620" width="1" height="5" fill="#c0c0c0"/>
<rect x="1273" y="619" width="1" height="2" fill="#c0c0c0"/>
<rect x="1281" y="615" width="1" height="6" fill="#c0c0c0"/>
<rect x="1289" y="612" width="1" height="9" fill="#c0c0c0"/>
<rect x="1297" y="605" width="1" height="16" fill="#c0c0c0"/>
<rect x="1305" y="601" width="1" height="20" fill="#c0c0c0"/>
<rect x="1313" y="599" width="1" height="22" fill="#c0c0c0"/>
<rect x="1321" y="599" width="1" height="22" fill="#c0c0c0"/>
<rect x="1329" y="598" width="1" height="23" fill="#c0c0c0"/>
<rect x="1337" y="594" width="1" height="27" fill="#c0c0c0"/>
<rect x="1345" y="591" width="1" height="30" fill="#c0c0c0"/>
<rect x="1353" y="591" width="1" height="30" fill="#c0c0c0"/>
<rect x="1361" y="592" width="1" height="29" fill="#c0c0c0"/>
<rect x="1369" y="594" width="1" height="27" fill="#c0c0c0"/>
<rect x="1377" y="597" width="1" height="24" fill="#c0c0c0"/>
<rect x="1385" y="602" width="1" height="19" fill="#c0c0c0"/>
<rect x="1393" y="608" width="1" height="13" fill="#c0c0c0"/>
<rect x="1401" y="616" width="1" height="5" fill="#c0c0c0"/>
<rect x="1409" y="620" width="1" height="3" fill="#c0c0c0"/>
<rect x="1417" y="620" width="1" height="7" fill="#c0c0c0"/>
<rect x="1425" y="620" width="1" height="9" fill="#c0c0c0"/>
<rect x="1433" y="620" width="1" height="13" fill="#c0c0c0"/>
<rect x="1441" y="620" width="1" height="15" fill="#c0c0c0"/>
<rect x="1449" y="620" width="1" height="15" fill="#c0c0c0"/>
<rect x="1457" y="620" width="1" height="15" fill="#c0c0c0"/>
<rect x="1465" y="620" width="1" height="13" fill="#c0c0c0"/>
<rect x="1473" y="620" width="1" height="13" fill="#c0c0c0"/>
<rect x="1481" y="620" width="1" height="11" fill="#c0c0c0"/>
<rect x="1489" y="620" width="1" height="9" fill="#c0c0c0"/>
<rect x="1497" y="620" width="1" height="5" fill="#c0c0c0"/>
<rect x="1505" y="620" width="1" height="5" fill="#c0c0c0"/>
<rect x="1513" y="620" width="1" height="7" fill="#c0c0c0"/>
<rect x="1521" y="620" width="1" height="7" fill="#c0c0c0"/>
<rect x="1529" y="620" width="1" height="7" fill="#c0c0c0"/>
<rect x="1537" y="620" width="1" height="7" fill="#c0c0c0"/>
<rect x="1545" y="620" width="1" height="3" fill="#c0c0c0"/>
<rect x="1553" y="620" width="1" height="1" fill="#c0c0c0"/>
<rect x="1561" y="616" width="1" height="5" fill="#c0c0c0"/>
<rect x="1569" y="614" width="1" height="7" fill="#c0c0c0"/>
<rect x="1577" y="614" width="1" height="7" fill="#c0c0c0"/>
<rect x="1585" y="615" width="1" height="6" fill="#c0c0c0"/>
<rect x="1593" y="615" width="1" height="6" fill="#c0c0c0"/>
<rect x="1601" y="613" width="1" height="8" fill="#c0c0c0"/>
<rect x="1609" y="613" width="1" height="8" fill="#c0c0c0"/>
<rect x="1617" y="613" width="1" height="8" fill="#c0c0c0"/>
<rect x="1625" y="613" width="1" height="8" fill="#c0c0c0"/>
<rect x="1633" y="612" width="1" height="9" fill="#c0c0c0"/>
<rect x="1641" y="617" width="1" height="4" fill="#c0c0c0"/>
<rect x="1649" y="619" width="1" height="2" fill="#c0c0c0"/>
<rect x="1657" y="618" width="1" height="3" fill="#c0c0c0"/>
<rect x="1665" y="618" width="1" height="3" fill="#c0c0c0"/>
<polyline points="1.5,628.2 9.5,627.0 17.5,623.8 25.5,620.8 33.5,618.0 41.5,614.5 49.5,610.0 57.5,606.2 65.5,602.5 73.5,599.2 81.5,598.5 89.5,598.5 97.5,598.5 105.5,598.4 113.5,598.2 121.5,597.0 129.5,595.0 137.5,593.0 145.5,591.5 153.5,587.5 161.5,585.5 169.5,581.5 177.5,579.0 185.5,578.2 193.5,577.5 201.5,577.2 209.5,578.0 217.5,580.0 225.5,582.5 233.5,584.0 241.5,586.5 249.5,590.0 257.5,591.5 265.5,596.2 273.5,599.2 281.5,602.5 289.5,605.0 297.5,607.0 305.5,608.5 313.5,611.2 321.5,612.0 329.5,613.2 337.5,616.2 345.5,619.5 353.5,621.2 361.5,624.0 369.5,628.8 377.5,633.8 385.5,638.8 393.5,642.5 401.5,647.0 409.5,649.5 417.5,651.8 425.5,653.5 433.5,653.4 441.5,653.2 449.5,650.5 457.5,648.8 465.5,645.0 473.5,642.5 481.5,636.5 489.5,633.0 497.5,630.5 505.5,626.5 513.5,623.0 521.5,620.0 529.5,618.5 537.5,618.5 545.5,619.5 553.5,620.2 561.5,621.5 569.5,625.0 577.5,627.5 585.5,630.5 593.5,632.0 601.5,634.2 609.5,635.0 617.5,636.8 625.5,637.5 633.5,637.0 641.5,636.2 649.5,635.0 657.5,634.0 665.5,633.2 673.5,632.0 681.5,631.2 689.5,630.5 697.5,629.0 705.5,628.0 713.5,627.5 721.5,627.5 729.5,627.5 737.5,627.5 745.5,627.2 753.5,626.2 761.5,625.5 769.5,625.0 777.5,624.5 785.5,624.5 793.5,624.5 801.5,626.2 809.5,629.5 817.5,633.8 825.5,640.0 833.5,647.5 841.5,653.0 849.5,660.0 857.5,667.5 865.5,673.8 873.5,677.0 881.5,679.0 889.5,679.2 897.5,678.0 905.5,674.5 913.5,670.8 921.5,666.8 929.5,661.8 937.5,656.2 945.5,652.5 953.5,648.2 961.5,644.5 969.5,641.2 977.5,637.5 985.5,634.5 993.5,631.5 1001.5,629.0 1009.5,625.8 1017.5,623.5 1025.5,621.2 1033.5,620.2 1041.5,619.2 1049.5,618.5 1057.5,619.0 1065.5,620.8 1073.5,622.5 1081.5,624.5 1089.5,627.5 1097.5,630.5 1105.5,634.5 1113.5,638.0 1121.5,641.0 1129.5,643.2 1137.5,645.2 1145.5,646.5 1153.5,647.2 1161.5,647.5 1169.5,647.0 1177.5,645.8 1185.5,644.8 1193.5,644.0 1201.5,642.5 1209.5,642.2 1217.5,642.2 1225.5,641.2 1233.5,640.0 1241.5,639.5 1249.5,638.0 1257.5,636.2 1265.5,634.5 1273.5,631.5 1281.5,628.0 1289.5,624.0 1297.5,620.5 1305.5,617.5 1313.5,613.0 1321.5,610.0 1329.5,606.5 1337.5,604.5 1345.5,601.5 1353.5,598.2 1361.5,595.5 1369.5,594.5 1377.5,594.5 1385.5,594.5 1393.5,595.0 1401.5,597.5 1409.5,600.5 1417.5,604.5 1425.5,608.5 1433.5,613.0 1441.5,618.0 1449.5,622.0 1457.5,626.5 1465.5,628.5 1473.5,631.5 1481.5,632.5 1489.5,632.5 1497.5,632.2 1505.5,631.5 1513.5,630.5 1521.5,629.2 1529.5,628.2 1537.5,627.0 1545.5,626.0 1553.5,624.5 1561.5,623.5 1569.5,622.2 1577.5,621.0 1585.5,619.5 1593.5,618.2 1601.5,617.0 1609.5,615.8 1617.5,614.2 1625.5,613.5 1633.5,613.2 1641.5,613.2 1649.5,614.2 1657.5,614.2 1665.5,614.2" fill="none" stroke="#ff0000" stroke-width="1" stroke-linejoin="bevel" stroke-dasharray="3 3"/>
</g>
<g clip-path="url(#c3)">
<line x1="2" y1="732.5" x2="1686" y2="732.5" stroke="#b4b4b4" stroke-width="1" stroke-dasharray="3 3" shape-rendering="crispEdges"/>
<line x1="2" y1="782.5" x2="1686" y2="782.5" stroke="#b4b4b4" stroke-width="1" stroke-dasharray="3 3" shape-rendering="crispEdges"/>
<polyline points="1.5,747.0 9.5,739.2 17.5,741.5 25.5,741.5 33.5,740.2 41.5,742.5 49.5,743.5 57.5,747.5 65.5,744.2 73.5,755.5 81.5,757.5 89.5,755.5 97.5,752.5 105.5,736.5 113.5,731.2 121.5,733.5 129.5,732.5 137.5,732.5 145.5,730.0 153.5,733.0 161.5,735.5 169.5,741.5 177.5,737.2 185.5,739.5 193.5,738.5 201.5,750.2 209.5,748.2 217.5,748.2 225.5,758.5 233.5,751.2 241.5,752.5 249.5,759.5 257.5,753.5 265.5,761.5 273.5,761.5 281.5,759.5 289.5,759.5 297.5,748.5 305.5,753.5 313.5,759.0 321.5,762.5 329.5,771.2 337.5,770.2 345.5,777.2 353.5,778.5 361.5,780.0 369.5,781.8 377.5,784.5 385.5,776.2 393.5,779.2 401.5,773.8 409.5,771.2 417.5,770.2 425.5,759.2 433.5,762.5 441.5,763.5 449.5,758.5 457.5,745.5 465.5,744.0 473.5,744.0 481.5,744.0 489.5,757.5 497.5,756.2 505.5,752.5 513.5,751.0 521.5,755.0 529.5,759.2 537.5,771.0 545.5,775.5 553.5,774.2 561.5,771.5 569.5,775.5 577.5,768.5 585.5,759.0 593.5,757.0 601.5,764.2 609.5,765.5 617.5,773.2 625.5,767.0 633.5,753.2 641.5,756.5 649.5,755.2 657.5,753.2 665.5,762.5 673.5,763.5 681.5,761.2 689.5,753.2 697.5,758.2 705.5,762.0 713.5,764.5 721.5,757.5 729.5,762.5 737.5,759.5 745.5,754.5 753.5,753.2 761.5,752.2 769.5,753.2 777.5,763.2 785.5,763.2 793.5,782.5 801.5,784.2 809.5,785.2 817.5,794.5 825.5,791.5 833.5,791.5 841.5,781.2 849.5,779.2 857.5,782.5 865.5,781.2 873.5,762.2 881.5,763.2 889.5,761.5 897.5,761.5 905.5,758.5 913.5,758.5 921.5,757.2 929.5,761.5 937.5,765.5 945.5,762.5 953.5,751.2 961.5,754.2 969.5,758.2 977.5,745.2 985.5,748.2 993.5,751.2 1001.5,755.2 1009.5,756.5 1017.5,760.5 1025.5,758.2 1033.5,758.2 1041.5,758.2 1049.5,762.2 1057.5,774.5 1065.5,766.0 1073.5,764.2 1081.5,772.2 1089.5,772.2 1097.5,783.5 1105.5,780.5 1113.5,770.2 1121.5,768.2 1129.5,759.2 1137.5,759.2 1145.5,760.5 1153.5,759.2 1161.5,767.5 1169.5,769.5 1177.5,762.5 1185.5,765.2 1193.5,766.5 1201.5,767.5 1209.5,775.5 1217.5,763.2 1225.5,751.2 1233.5,753.5 1241.5,755.5 1249.5,754.5 1257.5,754.5 1265.5,757.5 1273.5,745.2 1281.5,747.5 1289.5,746.5 1297.5,739.2 1305.5,741.2 1313.5,743.2 1321.5,748.5 1329.5,745.5 1337.5,738.2 1345.5,739.5 1353.5,745.2 1361.5,745.2 1369.5,747.5 1377.5,757.0 1385.5,759.0 1393.5,764.0 1401.5,772.0 1409.5,773.5 1417.5,769.2 1425.5,764.2 1433.5,772.2 1441.5,767.0 1449.5,763.5 1457.5,763.5 1465.5,757.2 1473.5,760.5 1481.5,760.5 1489.5,754.2 1497.5,752.2 1505.5,756.0 1513.5,765.5 1521.5,760.5 1529.5,760.5 1537.5,760.5 1545.5,749.5 1553.5,746.5 1561.5,743.2 1569.5,748.5 1577.5,753.2 1585.5,759.2 1593.5,754.5 1601.5,748.5 1609.5,754.2 1617.5,755.8 1625.5,750.5 1633.5,750.5 1641.5,765.2 1649.5,763.2 1657.5,753.2 1665.5,755.5" fill="none" stroke="#1e90ff" stroke-width="1" stroke-linejoin="bevel" shape-rendering="crispEdges"/>
</g>
<g fill="#000" shape-rendering="crispEdges">
<rect x="0" y="3" width="1687" height="1"/>
<rect x="0" y="3" width="1" height="817"/>
<rect x="1686" y="3" width="1" height="817"/>
<rect x="0" y="565" width="1687" height="1"/>
<rect x="0" y="566" width="1687" height="1" fill="#fff"/>
<rect x="0" y="567" width="1687" height="1"/>
<rect x="0" y="692" width="1687" height="1"/>
<rect x="0" y="693" width="1687" height="1" fill="#fff"/>
<rect x="0" y="694" width="1687" height="1"/>
<rect x="0" y="819" width="1687" height="1"/>
<rect x="1687" y="34" width="2" height="1"/>
<rect x="1687" y="67" width="2" height="1"/>
<rect x="1687" y="100" width="2" height="1"/>
<rect x="1687" y="133" width="2" height="1"/>
<rect x="1687" y="166" width="2" height="1"/>
<rect x="1687" y="199" width="2" height="1"/>
<rect x="1687" y="232" width="2" height="1"/>
<rect x="1687" y="265" width="2" height="1"/>
<rect x="1687" y="298" width="2" height="1"/>
<rect x="1687" y="331" width="2" height="1"/>
<rect x="1687" y="364" width="2" height="1"/>
<rect x="1687" y="397" width="2" height="1"/>
<rect x="1687" y="430" width="2" height="1"/>
<rect x="1687" y="463" width="2" height="1"/>
<rect x="1687" y="496" width="2" height="1"/>
<rect x="1687" y="529" width="2" height="1"/>
<rect x="1687" y="562" width="2" height="1"/>
<rect x="1687" y="568" width="2" height="1"/>
<rect x="1687" y="620" width="2" height="1"/>
<rect x="1" y="820" width="1" height="3"/>
<rect x="65" y="820" width="1" height="3"/>
<rect x="129" y="820" width="1" height="3"/>
<rect x="193" y="820" width="1" height="3"/>
<rect x="257" y="820" width="1" height="3"/>
<rect x="321" y="820" width="1" height="3"/>
<rect x="385" y="820" width="1" height="3"/>
<rect x="449" y="820" width="1" height="3"/>
<rect x="513" y="820" width="1" height="3"/>
<rect x="577" y="820" width="1" height="3"/>
<rect x="641" y="820" width="1" height="3"/>
<rect x="705" y="820" width="1" height="3"/>
<rect x="769" y="820" width="1" height="3"/>
<rect x="833" y="820" width="1" height="3"/>
<rect x="897" y="820" width="1" height="3"/>
<rect x="961" y="820" width="1" height="3"/>
<rect x="1025" y="820" width="1" height="3"/>
<rect x="1089" y="820" width="1" height="3"/>
<rect x="1153" y="820" width="1" height="3"/>
<rect x="1217" y="820" width="1" height="3"/>
<rect x="1281" y="820" width="1" height="3"/>
<rect x="1345" y="820" width="1" height="3"/>
<rect x="1409" y="820" width="1" height="3"/>
<rect x="1473" y="820" width="1" height="3"/>
<rect x="1537" y="820" width="1" height="3"/>
<rect x="1601" y="820" width="1" height="3"/>
<rect x="1665" y="820" width="1" height="3"/>
</g>
<g shape-rendering="crispEdges">
<rect x="1686" y="188" width="2" height="2" fill="#ff0000"/>
<rect x="1686" y="303" width="2" height="2" fill="#ff0000"/>
<rect x="1686" y="411" width="2" height="2" fill="#32cd32"/>
<rect x="1686" y="497" width="2" height="2" fill="#4169e1"/>
</g>
<text class="sm" transform="translate(1692 38.4) scale(0.965 1)" >5376.0</text>
<text class="sm" transform="translate(1692 71.4) scale(0.965 1)" >5330.0</text>
<text class="sm" transform="translate(1692 104.4) scale(0.965 1)" >5284.0</text>
<text class="sm" transform="translate(1692 137.4) scale(0.965 1)" >5238.0</text>
<text class="sm" transform="translate(1692 170.4) scale(0.965 1)" >5192.0</text>
<text class="sm" transform="translate(1692 203.4) scale(0.965 1)" >5146.0</text>
<text class="sm" transform="translate(1692 236.4) scale(0.965 1)" >5100.0</text>
<text class="sm" transform="translate(1692 269.4) scale(0.965 1)" >5054.0</text>
<text class="sm" transform="translate(1692 302.4) scale(0.965 1)" >5008.0</text>
<text class="sm" transform="translate(1692 335.4) scale(0.965 1)" >4962.0</text>
<text class="sm" transform="translate(1692 368.4) scale(0.965 1)" >4916.0</text>
<text class="sm" transform="translate(1692 401.4) scale(0.965 1)" >4870.0</text>
<text class="sm" transform="translate(1692 434.4) scale(0.965 1)" >4824.0</text>
<text class="sm" transform="translate(1692 467.4) scale(0.965 1)" >4778.0</text>
<text class="sm" transform="translate(1692 500.4) scale(0.965 1)" >4732.0</text>
<text class="sm" transform="translate(1692 533.4) scale(0.965 1)" >4686.0</text>
<text class="sm" transform="translate(1692 566.4) scale(0.965 1)" >4640.0</text>
<rect x="1688" y="183" width="36" height="11" fill="#ff0000" shape-rendering="crispEdges"/>
<text class="sm" transform="translate(1692 192.1) scale(0.965 1)" style="fill:#fff;stroke:#fff">5160.0</text>
<rect x="1688" y="298" width="36" height="11" fill="#ff0000" shape-rendering="crispEdges"/>
<text class="sm" transform="translate(1692 307.1) scale(0.965 1)" style="fill:#fff;stroke:#fff">5000.0</text>
<rect x="1688" y="367" width="36" height="11" fill="#000000" shape-rendering="crispEdges"/>
<text class="sm" transform="translate(1692 376.1) scale(0.965 1)" style="fill:#fff;stroke:#fff">4904.8</text>
<rect x="1688" y="406" width="36" height="11" fill="#32cd32" shape-rendering="crispEdges"/>
<text class="sm" transform="translate(1692 415.1) scale(0.965 1)" style="fill:#fff;stroke:#fff">4850.0</text>
<rect x="1688" y="492" width="36" height="11" fill="#4169e1" shape-rendering="crispEdges"/>
<text class="sm" transform="translate(1692 501.1) scale(0.965 1)" style="fill:#fff;stroke:#fff">4730.0</text>
<text class="sm" transform="translate(1690 577.8) scale(0.965 1)" >71.83</text>
<text class="sm" transform="translate(1690 623.8) scale(0.965 1)" >0.00</text>
<text class="sm" transform="translate(1690 689.1) scale(0.965 1)" >-98.25</text>
<text class="sm" transform="translate(1690 705) scale(0.965 1)" >100</text>
<text class="sm" transform="translate(1690 735.9) scale(0.965 1)" >70</text>
<text class="sm" transform="translate(1690 785.9) scale(0.965 1)" >30</text>
<text class="sm" transform="translate(1690 815.7) scale(0.965 1)" >0</text>
<path d="M4 10h7.4l-3.7 4z" fill="#000"/>
<text class="sm" transform="translate(16.3 14.6) scale(1.0 1)" textLength="64.6" lengthAdjust="spacing">CHINA300-,H4</text>
<text class="sm" transform="translate(87 14.6) scale(0.976 1)" >4913.8 4921.0 4901.7 4904.8</text>
<text class="sm" transform="translate(5.3 580.5) scale(0.997 1)" >MACD(12,26,9) 4.69 8.42</text>
<text class="sm" transform="translate(5 707) scale(0.98 1)" >RSI(14) 51.6015</text>
<text class="sm" transform="translate(0.6 832) scale(1 1)" textLength="53.9" lengthAdjust="spacing">14 May 2021</text>
<text class="sm" transform="translate(64.6 832) scale(1 1)" textLength="57.5" lengthAdjust="spacing">20 May 05:00</text>
<text class="sm" transform="translate(128.6 832) scale(1 1)" textLength="57.5" lengthAdjust="spacing">26 May 05:00</text>
<text class="sm" transform="translate(192.6 832) scale(1 1)" textLength="48.1" lengthAdjust="spacing">1 Jun 05:00</text>
<text class="sm" transform="translate(256.6 832) scale(1 1)" textLength="48.1" lengthAdjust="spacing">7 Jun 05:00</text>
<text class="sm" transform="translate(320.6 832) scale(1 1)" textLength="52.7" lengthAdjust="spacing">11 Jun 05:00</text>
<text class="sm" transform="translate(384.6 832) scale(1 1)" textLength="52.7" lengthAdjust="spacing">18 Jun 05:00</text>
<text class="sm" transform="translate(448.6 832) scale(1 1)" textLength="52.7" lengthAdjust="spacing">24 Jun 05:00</text>
<text class="sm" transform="translate(512.6 832) scale(1 1)" textLength="52.7" lengthAdjust="spacing">30 Jun 05:00</text>
<text class="sm" transform="translate(576.6 832) scale(1 1)" textLength="44.7" lengthAdjust="spacing">6 Jul 05:00</text>
<text class="sm" transform="translate(640.6 832) scale(1 1)" textLength="49.3" lengthAdjust="spacing">12 Jul 05:00</text>
<text class="sm" transform="translate(704.6 832) scale(1 1)" textLength="49.3" lengthAdjust="spacing">16 Jul 05:00</text>
<text class="sm" transform="translate(768.6 832) scale(1 1)" textLength="49.3" lengthAdjust="spacing">22 Jul 05:00</text>
<text class="sm" transform="translate(832.6 832) scale(1 1)" textLength="49.3" lengthAdjust="spacing">28 Jul 05:00</text>
<text class="sm" transform="translate(896.6 832) scale(1 1)" textLength="50.9" lengthAdjust="spacing">3 Aug 05:00</text>
<text class="sm" transform="translate(960.6 832) scale(1 1)" textLength="50.9" lengthAdjust="spacing">9 Aug 05:00</text>
<text class="sm" transform="translate(1024.6 832) scale(1 1)" textLength="55.5" lengthAdjust="spacing">13 Aug 05:00</text>
<text class="sm" transform="translate(1088.6 832) scale(1 1)" textLength="55.5" lengthAdjust="spacing">19 Aug 05:00</text>
<text class="sm" transform="translate(1152.6 832) scale(1 1)" textLength="55.5" lengthAdjust="spacing">25 Aug 05:00</text>
<text class="sm" transform="translate(1216.6 832) scale(1 1)" textLength="55.5" lengthAdjust="spacing">31 Aug 05:00</text>
<text class="sm" transform="translate(1280.6 832) scale(1 1)" textLength="49.9" lengthAdjust="spacing">6 Sep 05:00</text>
<text class="sm" transform="translate(1344.6 832) scale(1 1)" textLength="54.5" lengthAdjust="spacing">10 Sep 05:00</text>
<text class="sm" transform="translate(1408.6 832) scale(1 1)" textLength="54.5" lengthAdjust="spacing">16 Sep 05:00</text>
<text class="sm" transform="translate(1472.6 832) scale(1 1)" textLength="54.5" lengthAdjust="spacing">24 Sep 05:00</text>
<text class="sm" transform="translate(1536.6 832) scale(1 1)" textLength="54.5" lengthAdjust="spacing">30 Sep 05:00</text>
<text class="sm" transform="translate(1600.6 832) scale(1 1)" textLength="53.5" lengthAdjust="spacing">13 Oct 05:00</text>
<text class="sm" transform="translate(1664.6 832) scale(1 1)" textLength="53.5" lengthAdjust="spacing">19 Oct 05:00</text>
</svg></body></html>
